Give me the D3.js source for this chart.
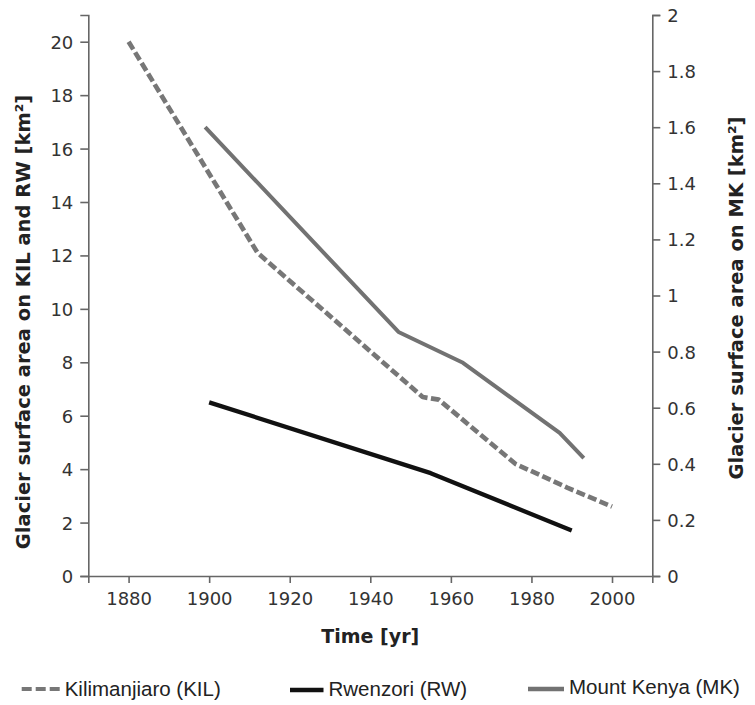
<!DOCTYPE html>

<head>
    <meta charset="utf-8">
    <title>Glacier surface area</title>
    <script type="text/javascript" src="https://d3js.org/d3.v7.min.js"></script>
    <style>
        body { margin: 0; background: #fff; }
        .axis text { font-family: "DejaVu Sans", Verdana, sans-serif; font-size: 18px; fill: #333; }
        .axis path, .axis line { stroke: #666; stroke-width: 1.6px; }
        .title { font-family: "DejaVu Sans", Verdana, sans-serif; font-size: 19.5px; font-weight: bold; fill: #222; }
        .legend text { font-family: "Liberation Sans", Arial, sans-serif; font-size: 20.5px; fill: #222; }
    </style>
</head>

<body>
    <div id="container"></div>
    <script>
        //------------------------1. DATA------------------------//
        var kilYears = [1880, 1912, 1953, 1957, 1976, 1989, 2000],
            kilArea = [20, 12.1, 6.7, 6.6, 4.2, 3.3, 2.6];

        var rwYears = [1900, 1955, 1990],
            rwArea = [6.5, 3.85, 1.7];

        var mkYears = [1899, 1947, 1963, 1987, 1993],
            mkArea = [1.6, 0.87, 0.76, 0.51, 0.42];

        var xTicks = [1880, 1900, 1920, 1940, 1960, 1980, 2000],
            leftTicks = [0, 2, 4, 6, 8, 10, 12, 14, 16, 18, 20],
            rightTicks = [0, 0.2, 0.4, 0.6, 0.8, 1, 1.2, 1.4, 1.6, 1.8, 2];

        var series = [
            { name: "Kilimanjiaro (KIL)", years: kilYears, values: kilArea, axis: "left", color: "#777", width: 4.7, dash: "9,3.5" },
            { name: "Rwenzori (RW)", years: rwYears, values: rwArea, axis: "left", color: "#111", width: 4.3, dash: null },
            { name: "Mount Kenya (MK)", years: mkYears, values: mkArea, axis: "right", color: "#727272", width: 4, dash: null }
        ];

        //------------------------2. SVG------------------------//
        var W = 755, H = 705,
            margin = { top: 15, right: 102.7, bottom: 129, left: 88.3 },
            width = W - margin.left - margin.right,
            height = H - margin.top - margin.bottom;

        var svg = d3.select("#container").append("svg")
            .attr("width", W).attr("height", H);

        var g = svg.append("g")
            .attr("transform", "translate(" + margin.left + "," + margin.top + ")");

        var x = d3.scaleLinear().domain([1870, 2010]).range([0, width]),
            yL = d3.scaleLinear().domain([0, 21]).range([height, 0]),
            yR = d3.scaleLinear().domain([0, 2]).range([height, 0]);

        //------------------------3. AXES------------------------//
        g.append("g")
            .attr("class", "axis axis--x")
            .attr("transform", "translate(0," + height + ")")
            .call(d3.axisBottom(x).tickValues(xTicks).tickFormat(d3.format("d")).tickSizeOuter(0).tickSize(7).tickPadding(9));

        g.append("g")
            .attr("class", "axis axis--y")
            .call(d3.axisLeft(yL).tickValues(leftTicks).tickSizeOuter(0).tickSize(8).tickPadding(7));

        g.append("g")
            .attr("class", "axis axis--y2")
            .attr("transform", "translate(" + width + ",0)")
            .call(d3.axisRight(yR).tickValues(rightTicks).tickFormat(function (d) { return String(+d.toFixed(1)); }).tickSizeOuter(0).tickSize(8).tickPadding(7));

        g.selectAll(".axis text").attr("dy", "0.36em");
        g.select(".axis--x").selectAll("text").attr("dy", "0.71em");

        // axis titles
        svg.append("text")
            .attr("class", "title")
            .attr("text-anchor", "middle")
            .style("font-size", "19px")
            .attr("x", margin.left + width / 2)
            .attr("y", 643)
            .text("Time [yr]");

        svg.append("text")
            .attr("class", "title")
            .attr("text-anchor", "middle")
            .attr("transform", "translate(30,322) rotate(-90)")
            .text("Glacier surface area on KIL and RW [km²]");

        svg.append("text")
            .attr("class", "title")
            .attr("text-anchor", "middle")
            .attr("transform", "translate(743,298) rotate(-90)")
            .text("Glacier surface area on MK [km²]");

        //------------------------4. LINES------------------------//
        series.forEach(function (s) {
            var yScale = s.axis === "left" ? yL : yR;
            var pts = s.years.map(function (yr, i) { return [yr, s.values[i]]; });
            var line = d3.line()
                .x(function (d) { return x(d[0]); })
                .y(function (d) { return yScale(d[1]); });
            g.append("path")
                .datum(pts)
                .attr("fill", "none")
                .attr("stroke", s.color)
                .attr("stroke-width", s.width)
                .attr("stroke-linejoin", "round")
                .attr("stroke-dasharray", s.dash)
                .attr("d", line);
        });

        //------------------------5. LEGEND------------------------//
        var legendPos = [
            { x: 21.7, len: 38, y: 689, ty: 696, dash: "10,4", w: 4 },
            { x: 290, len: 33.5, y: 690, ty: 696, dash: null, w: 4.5 },
            { x: 528, len: 36, y: 689, ty: 694, dash: null, w: 4.5 }
        ];

        var legend = svg.selectAll(".legend")
            .data(series)
            .enter().append("g")
            .attr("class", "legend");

        legend.append("line")
            .attr("x1", function (d, i) { return legendPos[i].x; })
            .attr("x2", function (d, i) { return legendPos[i].x + legendPos[i].len; })
            .attr("y1", function (d, i) { return legendPos[i].y; })
            .attr("y2", function (d, i) { return legendPos[i].y; })
            .attr("stroke", function (d) { return d.color; })
            .attr("stroke-width", function (d, i) { return legendPos[i].w; })
            .attr("stroke-dasharray", function (d, i) { return legendPos[i].dash; });

        legend.append("text")
            .attr("x", function (d, i) { return legendPos[i].x + legendPos[i].len + 5; })
            .attr("y", function (d, i) { return legendPos[i].ty; })
            .text(function (d) { return d.name; });
    </script>
</body>
